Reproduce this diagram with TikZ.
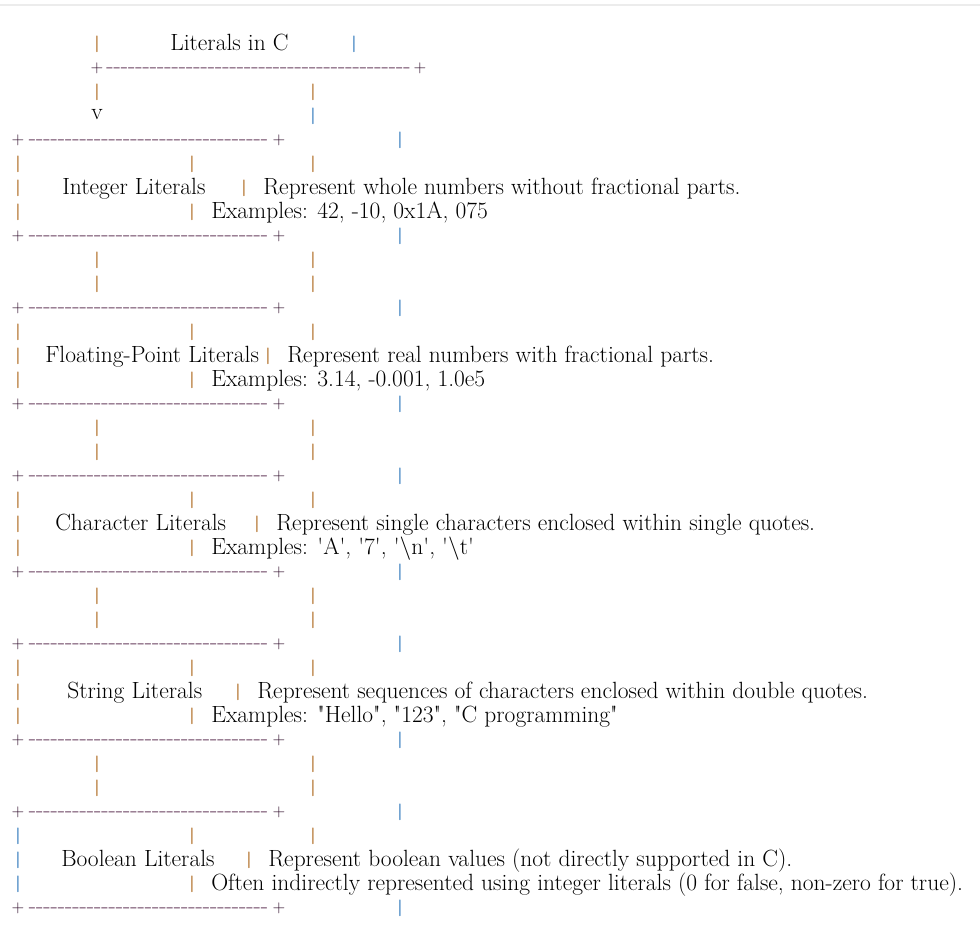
\documentclass[tikz,border=0pt]{standalone}
\usepackage{xcolor}
\usepackage{tikz}
\definecolor{barbrown}{RGB}{165,88,5}
\definecolor{barblue}{RGB}{25,105,180}
\definecolor{pluscol}{RGB}{45,10,40}
\definecolor{dashcol}{RGB}{110,70,100}
\definecolor{topline}{RGB}{236,236,236}
\newcommand\dashrun[1]{\foreach\i in {1,...,#1}{-\kern0pt}}
\tikzset{
  txt/.style={anchor=base west, inner sep=0pt, font=\fontsize{17.6}{20}\selectfont},
  bar/.style={inner sep=0pt, text=barbrown, font=\fontsize{12.5}{14}\selectfont\bfseries},
  barb/.style={bar, text=barblue},
  plus/.style={inner sep=0pt, text=pluscol, font=\fontsize{12.5}{14}\selectfont},
  dashes/.style={inner sep=0pt, yshift=-2pt, text=dashcol, font=\fontsize{18}{20}\selectfont},
}

\begin{document}
\begin{tikzpicture}[x=0.75pt, y=-0.75pt]
  \useasboundingbox (0,0) rectangle (980,932);
  \fill[topline] (0,3.5) rectangle (980,6);
  % heading
  \node[bar] (hl) at (97,44) {|};
  \node[txt] (head) at (170,50) {Literals in C};
  \node[barb] (hr) at (354,44) {|};
  \node[plus] (hpl) at (97,68) {+};
  \node[plus] (hpr) at (420,68) {+};
  \node[dashes] (hrule) at (258.5,68) {\dashrun{42}};
  \node[bar] (hd1) at (97,92) {|};
  \node[bar] (hd2) at (313,92) {|};
  \node[inner sep=0pt, font=\fontsize{17.6}{20}\selectfont] (arrowv) at (97,115) {v};
  \node[barb] (hd3) at (313,116) {|};
  % the five literal kinds
  \foreach \k/\ttl/\tx/\sx/\lc/\desc/\ex [evaluate=\k as \yt using 140+168*\k] in {
    0/Integer Literals/62/244/barbrown/{Represent whole numbers without fractional parts.}/{Examples: 42, -10, 0x1A, 075},
    1/Floating-Point Literals/45/268/barbrown/{Represent real numbers with fractional parts.}/{Examples: 3.14, -0.001, 1.0e5},
    2/Character Literals/55/257/barbrown/{Represent single characters enclosed within single quotes.}/{Examples: \textquotesingle A\textquotesingle, \textquotesingle 7\textquotesingle, \textquotesingle\textbackslash n\textquotesingle, \textquotesingle\textbackslash t\textquotesingle},
    3/String Literals/67/238/barbrown/{Represent sequences of characters enclosed within double quotes.}/{Examples: \textquotedbl Hello\textquotedbl, \textquotedbl 123\textquotedbl, \textquotedbl C programming\textquotedbl},
    4/Boolean Literals/61/249/barblue/{Represent boolean values (not directly supported in C).}/{Often indirectly represented using integer literals (0 for false, non-zero for true).}} {
    \node[plus] (tl\k) at (18,\yt) {+};
    \node[plus] (tr\k) at (279,\yt) {+};
    \node[dashes] (tm\k) at (148.5,\yt) {\dashrun{33}};
    \node[barb] (tb\k) at (400,\yt) {|};
    \node[bar, text=\lc] (la\k) at (18,\yt+24) {|};
    \node[bar] (ma\k) at (192,\yt+24) {|};
    \node[bar] (ra\k) at (313,\yt+24) {|};
    \node[bar, text=\lc] (lb\k) at (18,\yt+48) {|};
    \node[txt] (name\k) at (\tx,\yt+54) {\ttl};
    \node[bar] (sep\k) at (\sx,\yt+48) {|};
    \node[txt] (desc\k) at (\sx+19,\yt+54) {\desc};
    \node[bar, text=\lc] (lc\k) at (18,\yt+72) {|};
    \node[bar] (mc\k) at (192,\yt+72) {|};
    \node[txt] (ex\k) at (211,\yt+78) {\ex};
    \node[plus] (bl\k) at (18,\yt+96) {+};
    \node[plus] (br\k) at (279,\yt+96) {+};
    \node[dashes] (bm\k) at (148.5,\yt+96) {\dashrun{33}};
    \node[barb] (bb\k) at (400,\yt+96) {|};
    \ifnum\k<4
      \node[bar] (ga\k) at (97,\yt+120) {|};
      \node[bar] (gb\k) at (313,\yt+120) {|};
      \node[bar] (gc\k) at (97,\yt+144) {|};
      \node[bar] (gd\k) at (313,\yt+144) {|};
    \fi
  }
\end{tikzpicture}
\end{document}
